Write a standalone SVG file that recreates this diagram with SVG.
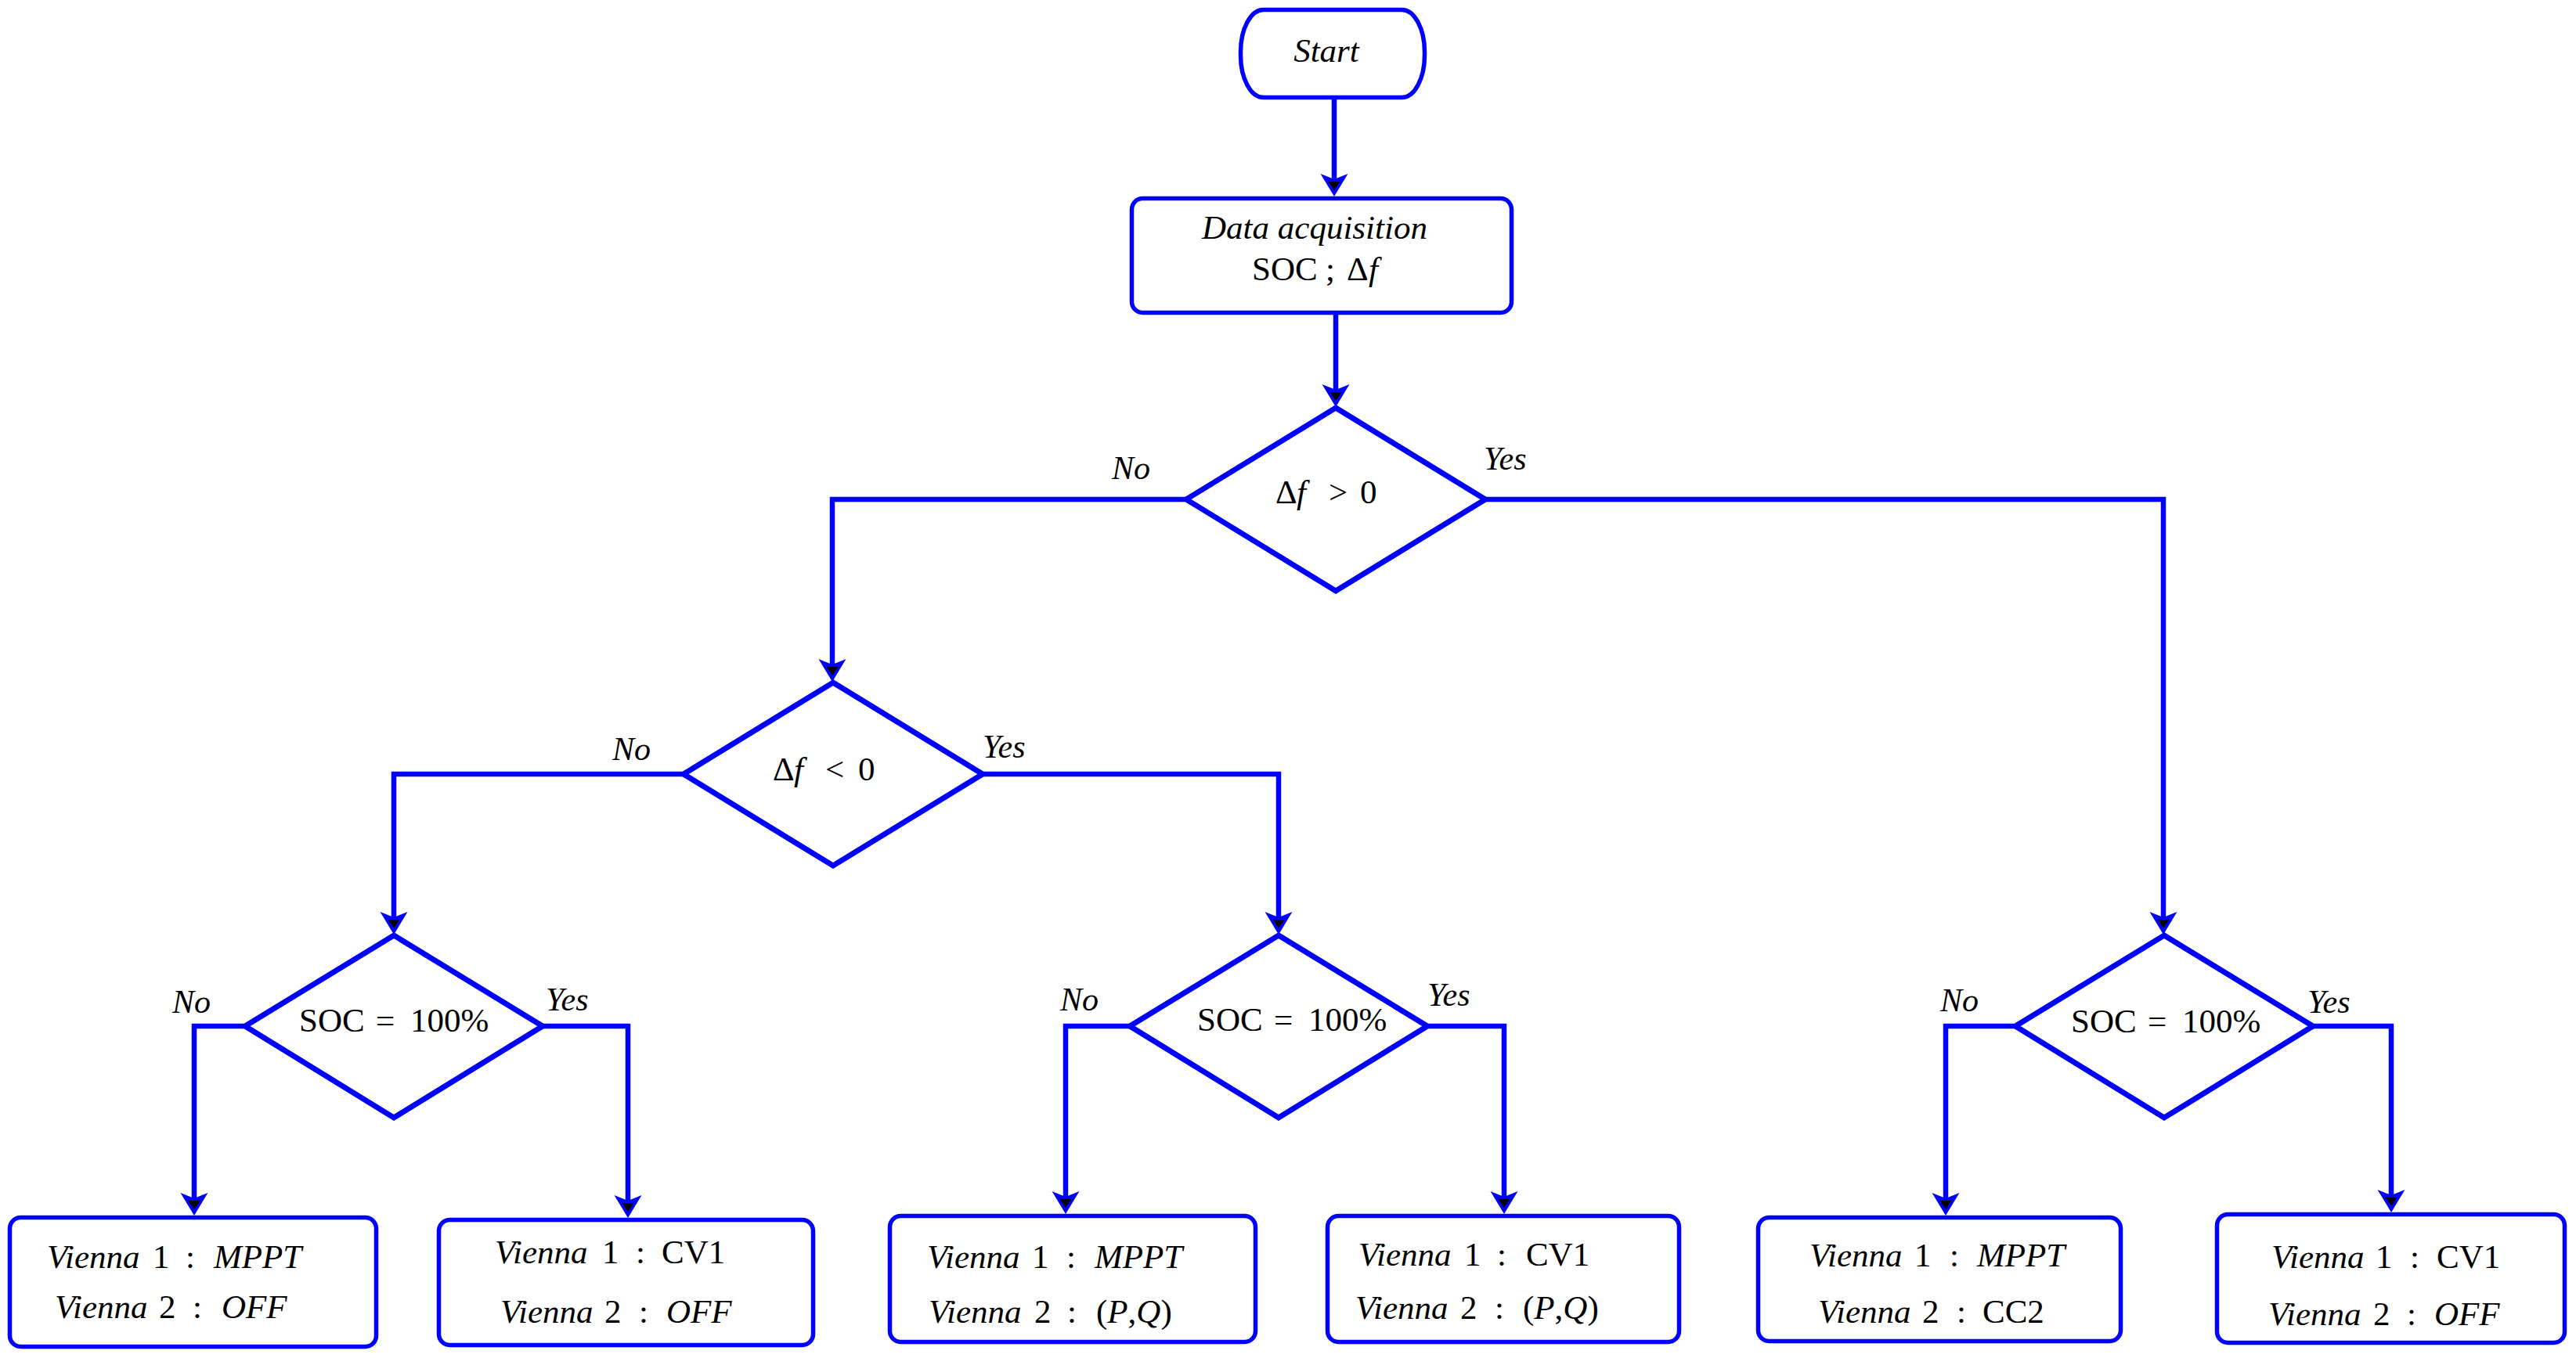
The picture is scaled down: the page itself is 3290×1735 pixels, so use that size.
<svg xmlns="http://www.w3.org/2000/svg" width="3290" height="1735" viewBox="0 0 3290 1735">
<style>
.bg{fill:#ffffff}
.box{fill:#ffffff;stroke:#0000ff;stroke-width:5.5}
.dia{fill:#ffffff;stroke:#0000ff;stroke-width:7;stroke-linejoin:miter}
.con{fill:none;stroke:#0000ff;stroke-width:6.5;stroke-linejoin:miter;marker-end:url(#arr)}
text{font-family:"Liberation Serif","DejaVu Serif",serif;fill:#000000}
.t{font-size:43px}
.lbl{font-size:42px;font-style:italic}
.i{font-style:italic}
</style>
<defs>
<marker id="arr" markerUnits="userSpaceOnUse" orient="auto" markerWidth="60" markerHeight="60" viewBox="-30 -30 60 60" refX="0" refY="0" overflow="visible">
<path d="M10,0 L-19,-17.5 L-12,0 L-19,17.5 Z" fill="#0000ff"/>
<path d="M2,0 L-9,-7.5 L-9,7.5 Z" fill="#000000"/>
</marker>
</defs>
<rect class="bg" x="0" y="0" width="3290" height="1735"/>

<g id="connectors">
<path class="con" d="M1704,127 V241"/>
<path class="con" d="M1706,402 V510"/>
<path class="con" d="M1515,638 H1063 V861"/>
<path class="con" d="M1897,638 H2763 V1184"/>
<path class="con" d="M873,989 H503 V1184"/>
<path class="con" d="M1255,989 H1633 V1184"/>
<path class="con" d="M313,1311 H248 V1543"/>
<path class="con" d="M693,1311 H802 V1546"/>
<path class="con" d="M1443,1311 H1361 V1541"/>
<path class="con" d="M1823,1311 H1921 V1541"/>
<path class="con" d="M2574,1311 H2485 V1543"/>
<path class="con" d="M2954,1311 H3054 V1539"/>
</g>

<g id="labels">
<text class="lbl" x="1420" y="612">No</text>
<text class="lbl" x="1895" y="600">Yes</text>
<text class="lbl" x="782" y="971">No</text>
<text class="lbl" x="1255" y="968">Yes</text>
<text class="lbl" x="220" y="1294">No</text>
<text class="lbl" x="697" y="1291">Yes</text>
<text class="lbl" x="1354" y="1291">No</text>
<text class="lbl" x="1823" y="1285">Yes</text>
<text class="lbl" x="2478" y="1292">No</text>
<text class="lbl" x="2947" y="1294">Yes</text>
</g>

<g id="start">
<rect class="box" x="1584.5" y="12.5" width="235" height="112" rx="29" ry="54"/>
<text class="t i" x="1694" y="79" text-anchor="middle" font-size="44">Start</text>
</g>

<g id="data">
<rect class="box" x="1445.5" y="253.5" width="485" height="146" rx="14"/>
<text class="t i" x="1679" y="305" text-anchor="middle">Data acquisition</text>
<text class="t" y="358"><tspan x="1599">SOC</tspan><tspan x="1693">;</tspan><tspan x="1720">Δ</tspan><tspan x="1748" class="i">f</tspan></text>
</g>

<g id="d1">
<polygon class="dia" points="1706,521 1897,638 1706,755 1515,638"/>
<text class="t" y="643"><tspan x="1629">Δ</tspan><tspan x="1656" class="i">f</tspan><tspan x="1697">&gt;</tspan><tspan x="1737">0</tspan></text>
</g>

<g id="d2">
<polygon class="dia" points="1064,872 1255,989 1064,1106 873,989"/>
<text class="t" y="997"><tspan x="987">Δ</tspan><tspan x="1014" class="i">f</tspan><tspan x="1054">&lt;</tspan><tspan x="1096">0</tspan></text>
</g>

<g id="d3">
<polygon class="dia" points="503,1195 693,1311 503,1428 313,1311"/>
<text class="t" y="1318"><tspan x="382">SOC</tspan><tspan x="480">=</tspan><tspan x="524">100%</tspan></text>
</g>

<g id="d4">
<polygon class="dia" points="1633,1195 1823,1311 1633,1428 1443,1311"/>
<text class="t" y="1317"><tspan x="1529">SOC</tspan><tspan x="1627">=</tspan><tspan x="1671">100%</tspan></text>
</g>

<g id="d5">
<polygon class="dia" points="2764,1195 2954,1311 2764,1428 2574,1311"/>
<text class="t" y="1319"><tspan x="2645">SOC</tspan><tspan x="2743">=</tspan><tspan x="2787">100%</tspan></text>
</g>

<g id="b1">
<rect class="box" x="12.5" y="1555.5" width="468" height="165" rx="14"/>
<text class="t" y="1620"><tspan x="60" class="i">Vienna</tspan><tspan x="195">1</tspan><tspan x="237">:</tspan><tspan x="273" class="i">MPPT</tspan></text>
<text class="t" y="1684"><tspan x="70" class="i">Vienna</tspan><tspan x="203">2</tspan><tspan x="246">:</tspan><tspan x="283" class="i">OFF</tspan></text>
</g>

<g id="b2">
<rect class="box" x="560.5" y="1558.5" width="478" height="160" rx="14"/>
<text class="t" y="1614"><tspan x="632" class="i">Vienna</tspan><tspan x="769">1</tspan><tspan x="812">:</tspan><tspan x="845">CV1</tspan></text>
<text class="t" y="1690"><tspan x="639" class="i">Vienna</tspan><tspan x="772">2</tspan><tspan x="816">:</tspan><tspan x="851" class="i">OFF</tspan></text>
</g>

<g id="b3">
<rect class="box" x="1136.5" y="1553.5" width="467" height="161" rx="14"/>
<text class="t" y="1620"><tspan x="1184" class="i">Vienna</tspan><tspan x="1318">1</tspan><tspan x="1362">:</tspan><tspan x="1398" class="i">MPPT</tspan></text>
<text class="t" y="1690"><tspan x="1186" class="i">Vienna</tspan><tspan x="1321">2</tspan><tspan x="1363">:</tspan><tspan x="1400">(</tspan><tspan class="i">P</tspan><tspan>,</tspan><tspan class="i">Q</tspan><tspan>)</tspan></text>
</g>

<g id="b4">
<rect class="box" x="1695.5" y="1553.5" width="449" height="161" rx="14"/>
<text class="t" y="1617"><tspan x="1735" class="i">Vienna</tspan><tspan x="1870">1</tspan><tspan x="1912">:</tspan><tspan x="1949">CV1</tspan></text>
<text class="t" y="1685"><tspan x="1731" class="i">Vienna</tspan><tspan x="1865">2</tspan><tspan x="1909">:</tspan><tspan x="1945">(</tspan><tspan class="i">P</tspan><tspan>,</tspan><tspan class="i">Q</tspan><tspan>)</tspan></text>
</g>

<g id="b5">
<rect class="box" x="2245.5" y="1555.5" width="463" height="158" rx="14"/>
<text class="t" y="1618"><tspan x="2311" class="i">Vienna</tspan><tspan x="2445">1</tspan><tspan x="2490">:</tspan><tspan x="2525" class="i">MPPT</tspan></text>
<text class="t" y="1690"><tspan x="2322" class="i">Vienna</tspan><tspan x="2455">2</tspan><tspan x="2499">:</tspan><tspan x="2532">CC2</tspan></text>
</g>

<g id="b6">
<rect class="box" x="2831.5" y="1551.5" width="444" height="164" rx="14"/>
<text class="t" y="1620"><tspan x="2901" class="i">Vienna</tspan><tspan x="3034">1</tspan><tspan x="3078">:</tspan><tspan x="3112">CV1</tspan></text>
<text class="t" y="1693"><tspan x="2897" class="i">Vienna</tspan><tspan x="3031">2</tspan><tspan x="3074">:</tspan><tspan x="3109" class="i">OFF</tspan></text>
</g>
</svg>
